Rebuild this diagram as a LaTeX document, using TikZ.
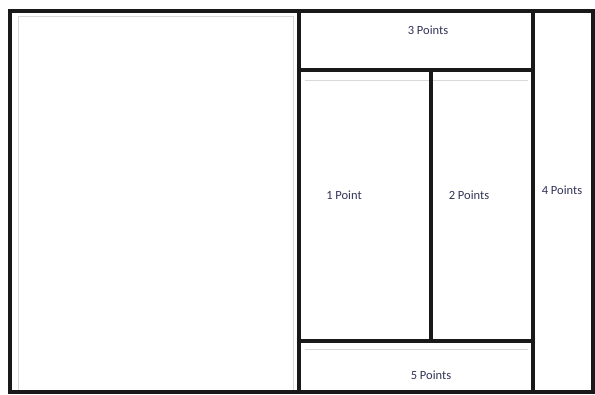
\documentclass[tikz,border=0pt]{standalone}
\usepackage{fontspec}
\setmainfont{Carlito}
\tikzset{
	wall/.style={line width=3.5pt, black!90},
	inner/.style={line width=0.6pt, black!15},
	lbl/.style={font=\fontsize{12.5}{14}\selectfont, text=black!75!blue!60!gray}
}
\begin{document}
\begin{tikzpicture}[x=1pt, y=-1pt]
	\useasboundingbox (0,0) rectangle (595,394);
	\fill[white] (0,0) rectangle (595,394);
	% faint inner edges
	\draw[inner] (18, 16) rectangle (293, 392);
	\draw[inner] (305, 80) -- (528, 80);
	\draw[inner] (305, 349) -- (528, 349);

	% outer frame and walls
	\draw[wall] (10, 11) -- (593, 11) -- (593, 392) -- (10, 392) -- cycle;
	\draw[wall] (299, 11) -- (299, 392);
	\draw[wall] (533, 11) -- (533, 392);
	\draw[wall] (299, 70) -- (533, 70);
	\draw[wall] (299, 341) -- (533, 341);
	\draw[wall] (431, 70) -- (431, 341);

	\node[lbl] (top) at (428, 30) {3 Points};
	\node[lbl] (left) at (344, 195) {1 Point};
	\node[lbl] (mid) at (469, 195) {2 Points};
	\node[lbl] (right) at (562, 190) {4 Points};
	\node[lbl] (bottom) at (431, 375) {5 Points};
\end{tikzpicture}
\end{document}
